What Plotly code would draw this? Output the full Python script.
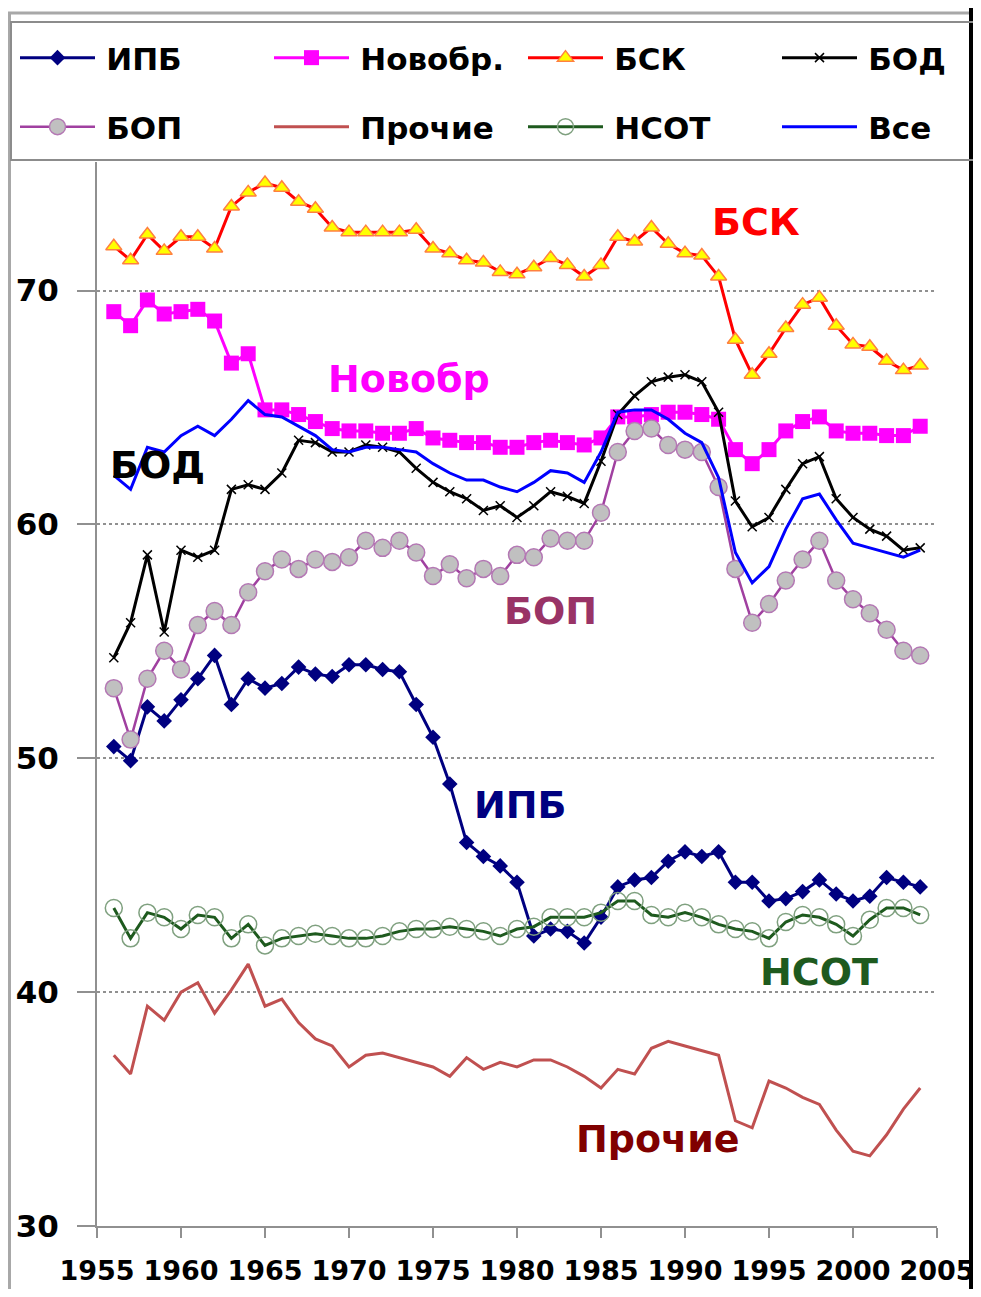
import plotly.graph_objects as go

# Years on the x axis (one point per year)
years = list(range(1956, 2005))

# Series values, 1956 .. 2004
ipb = [50.5, 49.9, 52.2, 51.6, 52.5, 53.4, 54.4, 52.3, 53.4, 53.0,
       53.2, 53.9, 53.6, 53.5, 54.0, 54.0, 53.8, 53.7, 52.3, 50.9,
       48.9, 46.4, 45.8, 45.4, 44.7, 42.4, 42.7, 42.6, 42.1, 43.2,
       44.5, 44.8, 44.9, 45.6, 46.0, 45.8, 46.0, 44.7, 44.7, 43.9,
       44.0, 44.3, 44.8, 44.2, 43.9, 44.1, 44.9, 44.7, 44.5]

novobr = [69.1, 68.5, 69.6, 69.0, 69.1, 69.2, 68.7, 66.9, 67.3, 64.9,
          64.9, 64.7, 64.4, 64.1, 64.0, 64.0, 63.9, 63.9, 64.1, 63.7,
          63.6, 63.5, 63.5, 63.3, 63.3, 63.5, 63.6, 63.5, 63.4, 63.7,
          64.6, 64.6, 64.7, 64.8, 64.8, 64.7, 64.5, 63.2, 62.6, 63.2,
          64.0, 64.4, 64.6, 64.0, 63.9, 63.9, 63.8, 63.8, 64.2]

bsk = [71.9, 71.3, 72.4, 71.7, 72.3, 72.3, 71.8, 73.6, 74.2, 74.6,
       74.4, 73.8, 73.5, 72.7, 72.5, 72.5, 72.5, 72.5, 72.6, 71.8,
       71.6, 71.3, 71.2, 70.8, 70.7, 71.0, 71.4, 71.1, 70.6, 71.1,
       72.3, 72.1, 72.7, 72.0, 71.6, 71.5, 70.6, 67.9, 66.4, 67.3,
       68.4, 69.4, 69.7, 68.5, 67.7, 67.6, 67.0, 66.6, 66.8]

bod = [54.3, 55.8, 58.7, 55.4, 58.9, 58.6, 58.9, 61.5, 61.7, 61.5,
       62.2, 63.6, 63.5, 63.1, 63.1, 63.4, 63.3, 63.1, 62.4, 61.8,
       61.4, 61.1, 60.6, 60.8, 60.3, 60.8, 61.4, 61.2, 60.9, 62.7,
       64.7, 65.5, 66.1, 66.3, 66.4, 66.1, 64.8, 61.0, 59.9, 60.3,
       61.5, 62.6, 62.9, 61.1, 60.3, 59.8, 59.5, 58.9, 59.0]

bop = [53.0, 50.8, 53.4, 54.6, 53.8, 55.7, 56.3, 55.7, 57.1, 58.0,
       58.5, 58.1, 58.5, 58.4, 58.6, 59.3, 59.0, 59.3, 58.8, 57.8,
       58.3, 57.7, 58.1, 57.8, 58.7, 58.6, 59.4, 59.3, 59.3, 60.5,
       63.1, 64.0, 64.1, 63.4, 63.2, 63.1, 61.6, 58.1, 55.8, 56.6,
       57.6, 58.5, 59.3, 57.6, 56.8, 56.2, 55.5, 54.6, 54.4]

prochie = [37.3, 36.5, 39.4, 38.8, 40.0, 40.4, 39.1, 40.1, 41.2, 39.4,
           39.7, 38.7, 38.0, 37.7, 36.8, 37.3, 37.4, 37.2, 37.0, 36.8,
           36.4, 37.2, 36.7, 37.0, 36.8, 37.1, 37.1, 36.8, 36.4, 35.9,
           36.7, 36.5, 37.6, 37.9, 37.7, 37.5, 37.3, 34.5, 34.2, 36.2,
           35.9, 35.5, 35.2, 34.1, 33.2, 33.0, 33.9, 35.0, 35.9]

nsot = [43.6, 42.3, 43.4, 43.2, 42.7, 43.3, 43.2, 42.3, 42.9, 42.0,
        42.3, 42.4, 42.5, 42.4, 42.3, 42.3, 42.4, 42.6, 42.7, 42.7,
        42.8, 42.7, 42.6, 42.4, 42.7, 42.8, 43.2, 43.2, 43.2, 43.4,
        43.9, 43.9, 43.3, 43.2, 43.4, 43.2, 42.9, 42.7, 42.6, 42.3,
        43.0, 43.3, 43.2, 42.9, 42.4, 43.1, 43.6, 43.6, 43.3]

vse = [62.1, 61.5, 63.3, 63.1, 63.8, 64.2, 63.8, 64.5, 65.3, 64.7,
       64.6, 64.2, 63.8, 63.2, 63.1, 63.3, 63.3, 63.2, 63.1, 62.6,
       62.2, 61.9, 61.9, 61.6, 61.4, 61.8, 62.3, 62.2, 61.8, 63.1,
       64.8, 64.9, 64.9, 64.5, 63.9, 63.5, 62.0, 58.8, 57.5, 58.2,
       59.8, 61.1, 61.3, 60.2, 59.2, 59.0, 58.8, 58.6, 58.9]

# Tick labels
x_ticks = [1955, 1960, 1965, 1970, 1975, 1980, 1985, 1990, 1995, 2000, 2005]
y_ticks = [30, 40, 50, 60, 70]

# Labels written inside the chart: text, colour, x (year), y (value)
inline_labels = [
    ("БСК", "#FF0000", 1994.2, 72.95),
    ("Новобр", "#FF00FF", 1973.6, 66.2),
    ("БОД", "#000000", 1958.6, 62.55),
    ("БОП", "#993366", 1982.0, 56.3),
    ("ИПБ", "#000080", 1980.2, 48.0),
    ("НСОТ", "#1E5A1E", 1998.0, 40.85),
    ("Прочие", "#800000", 1988.4, 33.7),
]

# The page puts the figure 8 px in from the top-left corner (body margin),
# so the figure is smaller and the margins are 8 px tighter.
PAGE_OFF = 8
W, H = 981 - PAGE_OFF, 1297 - 2 * PAGE_OFF
L, R, T = 97 - PAGE_OFF, 44, 162 - PAGE_OFF
B = H - (1226 - PAGE_OFF)


# screen pixel -> paper fraction
def px_x(px):
    return (px - PAGE_OFF - L) / (W - L - R)


def px_y(py):
    return (H - B - (py - PAGE_OFF)) / (H - T - B)


FONT = "DejaVu Sans"
GAP = "\u2009"  # small gap between legend symbol and legend text

fig = go.Figure()

# Row 1 of the legend
fig.add_trace(go.Scatter(
    x=years, y=ipb, name=GAP + "ИПБ", mode="lines+markers", legend="legend",
    line=dict(color="#000080", width=3),
    marker=dict(symbol="diamond", size=12, color="#000080"),
))
fig.add_trace(go.Scatter(
    x=years, y=novobr, name=GAP + "Новобр.", mode="lines+markers", legend="legend",
    line=dict(color="#FF00FF", width=3),
    marker=dict(symbol="square", size=15, color="#FF00FF"),
))
fig.add_trace(go.Scatter(
    x=years, y=bsk, name=GAP + "БСК", mode="lines+markers", legend="legend",
    line=dict(color="#FF0000", width=3),
    marker=dict(symbol="triangle-up", size=14, color="#FFFF00",
                line=dict(color="#FF8040", width=1.5)),
))
fig.add_trace(go.Scatter(
    x=years, y=bod, name=GAP + "БОД", mode="lines+markers", legend="legend",
    legendwidth=80,
    line=dict(color="#000000", width=3),
    marker=dict(symbol="x-thin-open", size=9,
                line=dict(color="#A0A0A0", width=1.5)),
))

# Row 2 of the legend
fig.add_trace(go.Scatter(
    x=years, y=bop, name=GAP + "БОП", mode="lines+markers", legend="legend2",
    line=dict(color="#A040A0", width=2.5),
    marker=dict(symbol="circle", size=17, color="#C0C0C0",
                line=dict(color="#B478B4", width=1.5)),
))
fig.add_trace(go.Scatter(
    x=years, y=prochie, name=GAP + "Прочие", mode="lines", legend="legend2",
    line=dict(color="#C05050", width=3),
))
fig.add_trace(go.Scatter(
    x=years, y=nsot, name=GAP + "НСОТ", mode="lines+markers", legend="legend2",
    line=dict(color="#1E5A1E", width=3),
    marker=dict(symbol="circle-open", size=17, color="#7FA07F",
                line=dict(width=1.5)),
))
fig.add_trace(go.Scatter(
    x=years, y=vse, name=GAP + "Все", mode="lines", legend="legend2",
    legendwidth=80,
    line=dict(color="#0000FF", width=3),
))

for text, color, xv, yv in inline_labels:
    fig.add_annotation(
        x=xv, y=yv, xref="x", yref="y", text=text, showarrow=False,
        font=dict(family=FONT, size=38, color=color, weight="bold"),
    )

legend_style = dict(
    orientation="h", xanchor="left", yanchor="middle",
    x=px_x(15), itemwidth=75, entrywidth=164, entrywidthmode="pixels",
    bgcolor="rgba(0,0,0,0)", borderwidth=0,
    font=dict(family=FONT, size=31, color="#000000", weight="bold"),
)

# Outer frame: black strip on the right, grey rules and the legend box
frame = [
    dict(type="rect", x0=px_x(969), x1=px_x(990), y0=px_y(1300), y1=px_y(0),
         fillcolor="#000000", line=dict(width=0), layer="below"),
    dict(type="line", x0=px_x(0), x1=px_x(969), y0=px_y(13), y1=px_y(13),
         line=dict(color="#A8A8A8", width=3), layer="above"),
    dict(type="line", x0=px_x(9.5), x1=px_x(9.5), y0=px_y(13), y1=px_y(1300),
         line=dict(color="#A8A8A8", width=3), layer="above"),
    dict(type="rect", x0=px_x(11), x1=px_x(990), y0=px_y(160), y1=px_y(22),
         line=dict(color="#8C8C8C", width=2), fillcolor="rgba(0,0,0,0)",
         layer="above"),
]
for s in frame:
    s.update(xref="paper", yref="paper")
    fig.add_shape(**s)

fig.update_layout(
    width=W, height=H,
    margin=dict(l=L, r=R, t=T, b=B, autoexpand=False),
    paper_bgcolor="#FFFFFF",
    plot_bgcolor="#FFFFFF",
    showlegend=True,
    legend=dict(legend_style, y=px_y(58)),
    legend2=dict(legend_style, y=px_y(127)),
    xaxis=dict(
        range=[1955, 2005], tickvals=x_ticks, ticktext=[str(v) for v in x_ticks],
        showgrid=False, zeroline=False,
        showline=True, linecolor="#909090", linewidth=2,
        ticks="outside", ticklen=10, tickwidth=2, tickcolor="#909090",
        ticklabelstandoff=10,
        tickfont=dict(family=FONT, size=27, color="#000000", weight="bold"),
    ),
    yaxis=dict(
        range=[30, 75.5], tickvals=y_ticks, ticktext=[str(v) for v in y_ticks],
        showgrid=True, gridcolor="#909090", gridwidth=1.5, griddash="dot",
        zeroline=False,
        showline=True, linecolor="#909090", linewidth=2,
        ticks="outside", ticklen=18, tickwidth=2, tickcolor="#909090",
        ticklabelstandoff=12,
        tickfont=dict(family=FONT, size=31, color="#000000", weight="bold"),
    ),
)

fig.write_html("out.html")
